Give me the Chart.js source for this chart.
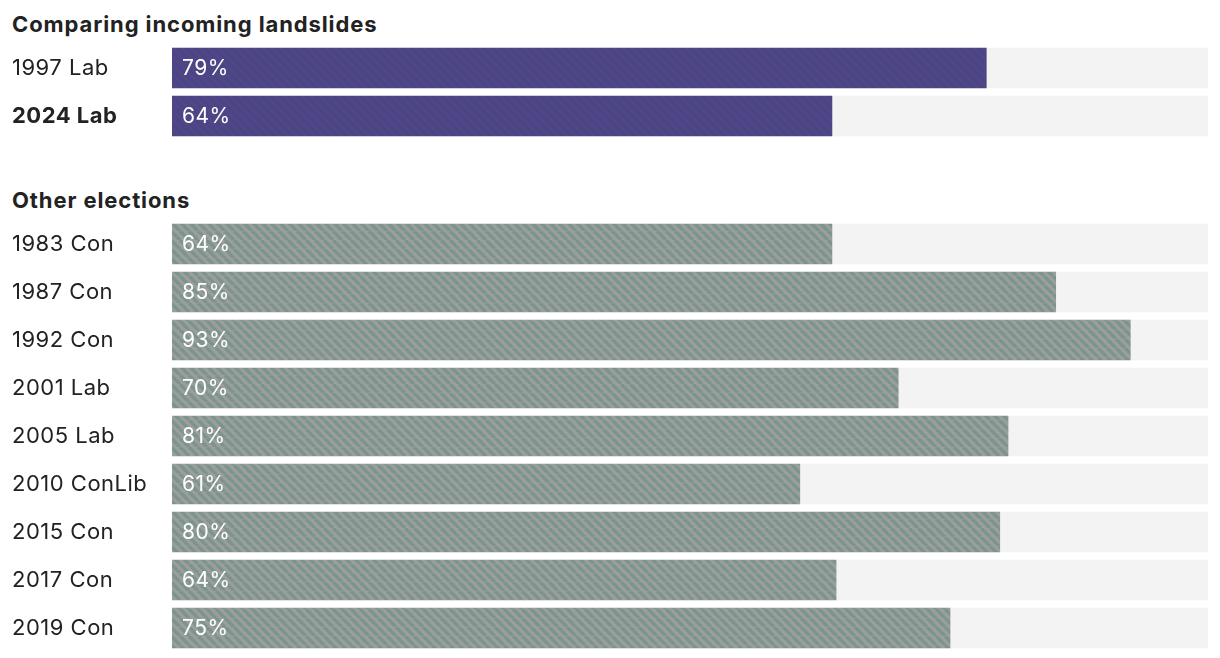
<!DOCTYPE html>
<html>
<head>
<meta charset="UTF-8">
<title>Comparing incoming landslides</title>
<script src="https://cdn.jsdelivr.net/npm/chart.js"></script>
<style>
    body {
        margin: 0;
        background: #fff;
        font-family: Inter, "Noto Sans", sans-serif;
        color: #222;
    }
    .wrap {
        position: relative;
        width: 1220px;
        height: 658px;
    }
    .heading {
        position: absolute;
        left: 12px;
        font-size: 22px;
        font-weight: 700;
        line-height: 26px;
        letter-spacing: 0.9px;
    }
    .box {
        position: absolute;
        left: 0;
        width: 1220px;
    }
</style>
</head>
<body>
<div class="wrap">
    <div class="heading" style="top: 11px;">Comparing incoming landslides</div>
    <div class="box" style="top: 28px; height: 128px;"><canvas id="topChart"></canvas></div>
    <div class="heading" style="top: 187px;">Other elections</div>
    <div class="box" style="top: 204px; height: 464px;"><canvas id="otherChart"></canvas></div>
</div>

<script>
    // share (%); labels show the rounded value
    const landslideLabels = ['1997 Lab', '2024 Lab'];
    const landslideValues = [78.6, 63.7];

    const otherLabels = ['1983 Con', '1987 Con', '1992 Con', '2001 Lab', '2005 Lab',
                         '2010 ConLib', '2015 Con', '2017 Con', '2019 Con'];
    const otherValues = [63.7, 85.3, 92.5, 70.1, 80.7, 60.6, 79.9, 64.1, 75.1];

    const boldRow = '2024 Lab';

    // diagonal hatch fill
    function hatch(base, stripe) {
        const size = 9;
        const c = document.createElement('canvas');
        c.width = size;
        c.height = size;
        const g = c.getContext('2d');
        g.fillStyle = base;
        g.fillRect(0, 0, size, size);
        g.strokeStyle = stripe;
        g.lineWidth = 3.3;
        for (const k of [-size, 0, size]) {
            g.beginPath();
            g.moveTo(k, 0);
            g.lineTo(k + size, size);
            g.stroke();
        }
        return g.createPattern(c, 'repeat');
    }

    const textSpacing = {
        id: 'textSpacing',
        beforeDraw(chart) { chart.ctx.letterSpacing = '0.5px'; }
    };

    const valueLabels = {
        id: 'valueLabels',
        afterDatasetsDraw(chart) {
            const ctx = chart.ctx;
            const meta = chart.getDatasetMeta(1);
            ctx.save();
            ctx.fillStyle = '#fff';
            ctx.font = '21px Inter, "Noto Sans", sans-serif';
            ctx.textAlign = 'left';
            ctx.textBaseline = 'middle';
            meta.data.forEach((bar, i) => {
                const v = chart.data.datasets[1].data[i];
                ctx.fillText(Math.round(v) + '%', bar.base + 10, bar.y + 1);
            });
            ctx.restore();
        }
    };

    function makeChart(id, labels, values, fill) {
        new Chart(document.getElementById(id), {
            type: 'bar',
            data: {
                labels: labels,
                datasets: [{
                    data: labels.map(() => 100),
                    backgroundColor: '#f3f3f3',
                    barThickness: 40,
                    grouped: false,
                    order: 2
                }, {
                    data: values,
                    backgroundColor: fill,
                    barThickness: 40,
                    grouped: false,
                    order: 1
                }]
            },
            options: {
                indexAxis: 'y',
                responsive: true,
                maintainAspectRatio: false,
                animation: false,
                // top/bottom 16 leaves room for the half-height tick labels
                layout: { padding: { left: 12, right: 12, top: 16, bottom: 16 } },
                plugins: {
                    legend: { display: false },
                    tooltip: { enabled: false }
                },
                scales: {
                    x: {
                        display: false,
                        min: 0,
                        max: 100
                    },
                    y: {
                        grid: { display: false },
                        border: { display: false },
                        afterFit: (scale) => { scale.width = 160; },
                        ticks: {
                            crossAlign: 'far',
                            padding: 0,
                            color: '#222',
                            font: (c) => ({
                                family: 'Inter, "Noto Sans", sans-serif',
                                size: 22,
                                weight: (c.tick && c.tick.label === boldRow) ? 'bold' : 'normal'
                            })
                        }
                    }
                }
            },
            plugins: [textSpacing, valueLabels]
        });
    }

    makeChart('topChart', landslideLabels, landslideValues, hatch('#52408e', '#474d7c'));
    makeChart('otherChart', otherLabels, otherValues, hatch('#9d9d9d', '#79968a'));
</script>
</body>
</html>
